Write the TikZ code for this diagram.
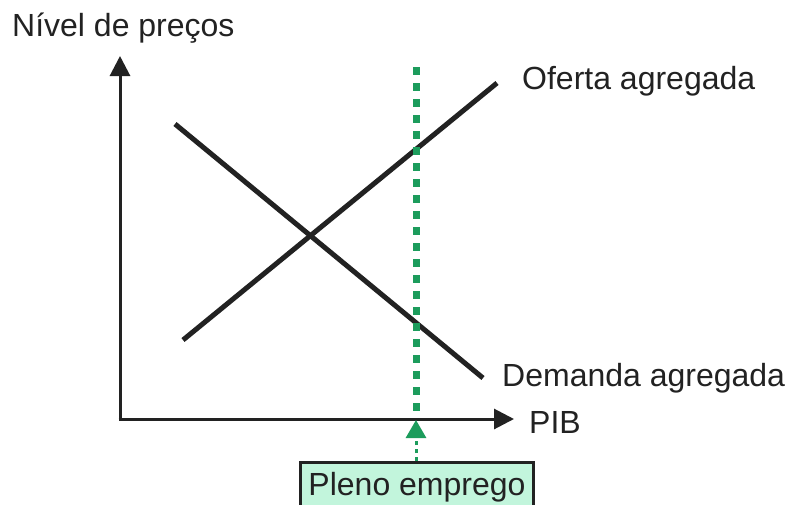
\documentclass[tikz,border=0pt]{standalone}
\usepackage{fontspec}
\setmainfont{Liberation Sans}
\usetikzlibrary{arrows.meta}
\definecolor{txt}{HTML}{222222}
\definecolor{pgreen}{HTML}{1C9C5C}
\definecolor{mint}{HTML}{C2F5DC}
\begin{document}
\begin{tikzpicture}[x=1pt,y=-1pt,
  lbl/.style={font=\fontsize{32}{38}\selectfont, text=txt, inner sep=0pt, anchor=base west},
  axis/.style={line width=3pt, draw=txt, -{Triangle[length=20pt,width=20pt]}},
  curve/.style={line width=5pt, draw=txt},
  fullemp/.style={line width=7pt, draw=pgreen, dash pattern=on 8pt off 8pt},
  pbox/.style={draw=txt, line width=3pt, fill=mint, minimum width=233pt, minimum height=50pt, anchor=north west, inner sep=0pt, font=\fontsize{32}{38}\selectfont, text=txt},
  parrow/.style={line width=3pt, draw=pgreen, dash pattern=on 4pt off 4pt, -{Triangle[length=18pt,width=20pt]}}]
\useasboundingbox (0,0) rectangle (787,504);
\clip (0,0) rectangle (787,504);
\fill[white] (0,0) rectangle (787,504);
% axes
\coordinate (O) at (120,419);
\coordinate (ytip) at (120,56);
\coordinate (xtip) at (514,419);
\draw[axis] (120,420.5) -- (ytip);
\draw[axis] (118.5,419) -- (xtip);
% curves
\coordinate (s1) at (183,340);
\coordinate (s2) at (497,83);
\coordinate (d1) at (175,124);
\coordinate (d2) at (483,378);
\draw[curve] (s1) -- (s2);
\draw[curve] (d1) -- (d2);
% full employment line
\coordinate (f1) at (416,67);
\coordinate (f2) at (416,417);
\draw[fullemp] (f1) -- (f2);
% labels
\node[lbl] (ylab) at (12,36) {Nível de preços};
\node[lbl] (olab) at (522,89) {Oferta agregada};
\node[lbl] (dlab) at (502,386) {Demanda agregada};
\node[lbl] (xlab) at (529,433) {PIB};
% box
\node[pbox] (pleno) at (299,461) {\raisebox{-4pt}{Pleno emprego}};
\coordinate (ptip) at (416,420);
\draw[parrow] (pleno.north -| ptip) -- (ptip);
\end{tikzpicture}
\end{document}
